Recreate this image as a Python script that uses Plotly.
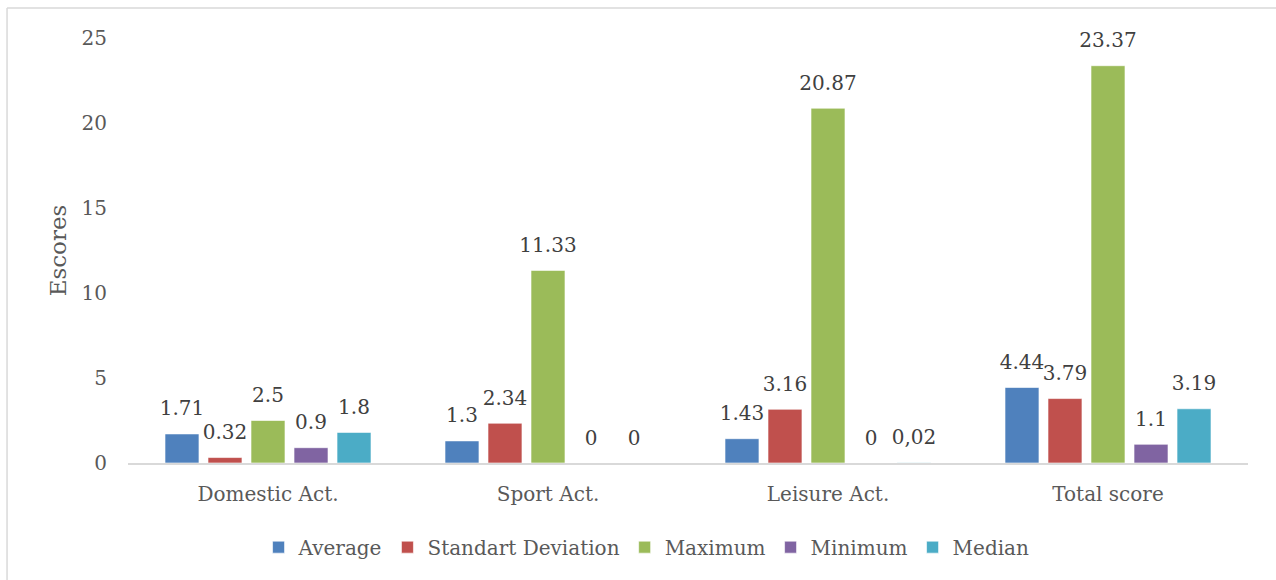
import plotly.graph_objects as go

categories = ["Domestic Act.", "Sport Act.", "Leisure Act.", "Total score"]
series_names = ["Average", "Standart Deviation", "Maximum", "Minimum", "Median"]
average = [1.71, 1.3, 1.43, 4.44]
std_dev = [0.32, 2.34, 3.16, 3.79]
maximum = [2.5, 11.33, 20.87, 23.37]
minimum = [0.9, 0, 0, 1.1]
median = [1.8, 0, 0.02, 3.19]
median_labels = ["1.8", "0", "0,02", "3.19"]

series_values = [average, std_dev, maximum, minimum, median]
colors = ["#4F81BD", "#C0504D", "#9BBB59", "#8064A2", "#4BACC6"]

FONT = "DejaVu Serif"
GREY = "#595959"
GAP = 0.232


def fmt(v):
    return f"{v:g}"


fig = go.Figure()

for i, (name, vals, col) in enumerate(zip(series_names, series_values, colors)):
    fig.add_trace(go.Bar(
        x=categories, y=vals, name=name,
        marker=dict(color=col, line=dict(color="rgba(255,255,255,0.6)", width=1)),
        offsetgroup=str(i),
        hoverinfo="y",
    ))

# value labels drawn as text-only scatter points, grouped in the same slots as the bars
for i, (name, vals) in enumerate(zip(series_names, series_values)):
    labels = median_labels if name == "Median" else [fmt(v) for v in vals]
    fig.add_trace(go.Scatter(
        x=categories, y=vals, mode="markers+text",
        text=labels, textposition="top center",
        textfont=dict(family=FONT, size=20, color="#404040"),
        marker=dict(size=20, color="rgba(0,0,0,0)"),
        offsetgroup=str(i), showlegend=False, hoverinfo="skip",
        cliponaxis=False,
    ))

fig.update_layout(
    width=1276, height=580,
    margin=dict(l=128, r=28, t=38, b=117),
    paper_bgcolor="white", plot_bgcolor="white",
    barmode="group", bargap=GAP, bargroupgap=0.21,
    scattermode="group", scattergap=GAP,
    font=dict(family=FONT, color=GREY, size=20),
    legend=dict(
        orientation="h", x=0.463, xanchor="center", y=-0.198, yanchor="middle",
        font=dict(family=FONT, size=20, color=GREY),
        itemwidth=30, traceorder="normal",
    ),
    xaxis=dict(
        showline=True, linecolor="#D9D9D9", linewidth=1.5,
        showgrid=False, ticks="", ticklabelstandoff=12,
        tickfont=dict(family=FONT, size=20, color=GREY),
    ),
    yaxis=dict(
        range=[0, 25], dtick=5, showgrid=False, zeroline=False,
        showline=False, ticks="", ticklabelstandoff=20,
        tickfont=dict(family=FONT, size=20, color=GREY),
        title=dict(text="Escores", standoff=8,
                   font=dict(family=FONT, size=23, color=GREY)),
    ),
    shapes=[
        dict(type="line", xref="paper", yref="paper",
             x0=-0.108, x1=1.1, y0=1.0706, y1=1.0706,
             line=dict(color="#D9D9D9", width=1.5)),
        dict(type="line", xref="paper", yref="paper",
             x0=-0.108, x1=-0.108, y0=-0.4, y1=1.0706,
             line=dict(color="#D9D9D9", width=1.5)),
    ],
)

fig.write_html("out.html")
